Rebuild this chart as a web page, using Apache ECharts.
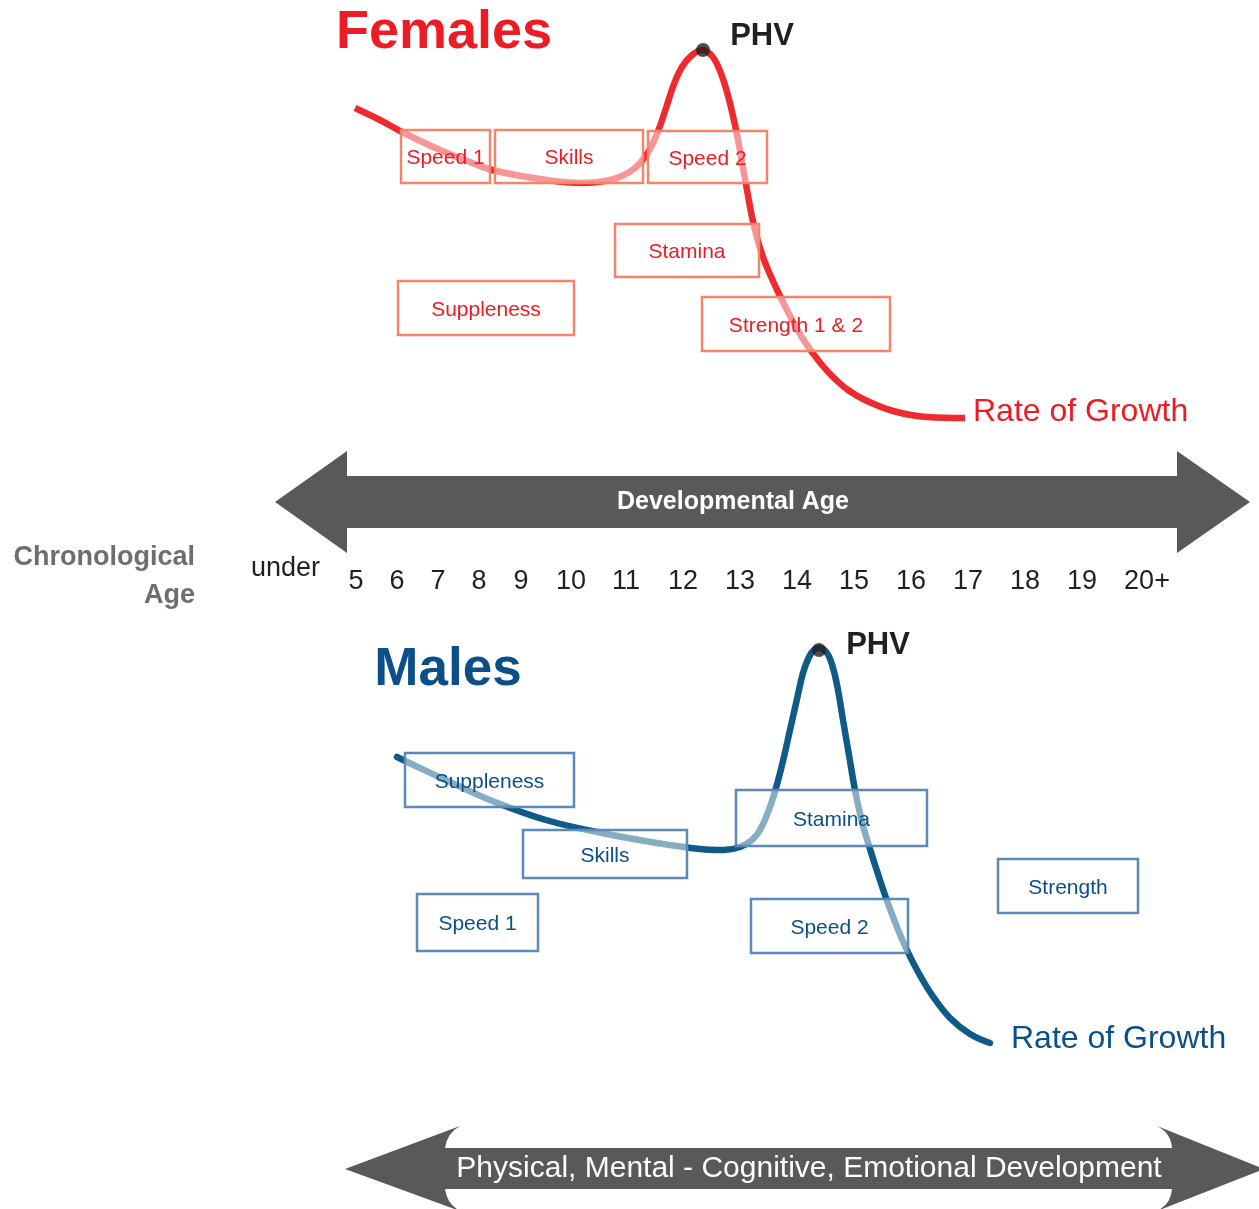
<!DOCTYPE html>
<html>
<head>
<meta charset="utf-8">
<title>Rate of Growth - Females / Males</title>
<script src="https://cdn.jsdelivr.net/npm/echarts@6/dist/echarts.min.js"></script>
<style>
  html, body { margin: 0; padding: 0; background: #fff; }
  #chart { width: 1259px; height: 1209px; }
</style>
</head>
<body>
<div id="chart"></div>
<script>
// diagram units: x 0..1259 left to right, y 0..1209 top to bottom
var femaleGrowth = [[355,108],[380,120],[402,132],[440,150],[470,162],[492,170],[540,179],[583,183],[605,181],
  [622,176],[635,168],[645,157],[653,143],[660,126],[667,105],[674,84],[682,67],[691,56],[702,50],[712,56],
  [720,71],[727,92],[733,116],[738,140],[743,168],[747,190],[751,212],[755,230],[760,248],[766,265],[773,281],
  [780,296],[787,310],[795,325],[803,339],[812,352],[822,365],[833,377],[848,390],[867,401],[893,411],
  [927,417],[965,418]];
var maleGrowth = [[397,757],[420,768],[450,782],[490,800],[546,820],[602,833],[657,843],[700,849],[724,850],
  [740,847],[752,840],[760,830],[770,807],[776,788],[783,761],[790,730],[797,699],[803,673],[809,657],
  [814,650],[819,648],[827,653],[833,668],[838,690],[843,720],[849,755],[855,790],[862,822],[870,849],
  [878,874],[886,898],[895,922],[905,946],[917,970],[932,995],[950,1018],[970,1034],[990,1043]];
var femalePHV = [[703, 50]];
var malePHV = [[819, 650]];

var femaleStages = ['Speed 1', 'Skills', 'Speed 2', 'Stamina', 'Suppleness', 'Strength 1 & 2'];
var femaleStageBoxes = [[401,130,490,183],[495,130,643,183],[648,131,767,183],[615,224,759,277],[398,281,574,335],[702,297,890,351]];
var maleStages = ['Suppleness', 'Skills', 'Stamina', 'Speed 1', 'Speed 2', 'Strength'];
var maleStageBoxes = [[405,753,574,807],[523,830,687,878],[736,790,927,846],[417,894,538,951],[751,899,908,953],[998,859,1138,913]];

var ageLabels = ['5','6','7','8','9','10','11','12','13','14','15','16','17','18','19','20+'];
var ageLabelX = [356,397,438,479,521,571,626,683,740,797,854,911,968,1025,1082,1147];

var FONT = '"Liberation Sans", Arial, Helvetica, sans-serif';
var RED = '#ed1c24', BLUE = '#0b4f8a', GREY = '#58595b';

var captions = [
  { text: 'Females', at: [444, 33], color: RED, font: 'bold 54px ' + FONT },
  { text: 'PHV', at: [762, 36], color: '#231f20', font: 'bold 31px ' + FONT },
  { text: 'Rate of Growth', at: [973, 412], color: RED, font: '32px ' + FONT, align: 'left' },
  { text: 'Developmental Age', at: [733, 502], color: '#fff', font: 'bold 25px ' + FONT },
  { text: 'Chronological', at: [195, 558], color: '#6d6e71', font: 'bold 27px ' + FONT, align: 'right' },
  { text: 'Age', at: [195, 596], color: '#6d6e71', font: 'bold 27px ' + FONT, align: 'right' },
  { text: 'under', at: [251, 569], color: '#231f20', font: '27px ' + FONT, align: 'left' },
  { text: 'Males', at: [448, 670], color: BLUE, font: 'bold 53px ' + FONT },
  { text: 'PHV', at: [878, 645], color: '#231f20', font: 'bold 31px ' + FONT },
  { text: 'Rate of Growth', at: [1011, 1039], color: BLUE, font: '32px ' + FONT, align: 'left' },
  { text: 'Physical, Mental - Cognitive, Emotional Development', at: [809, 1169], color: '#fff', font: '30px ' + FONT }
];
ageLabels.forEach(function (t, i) {
  captions.push({ text: t, at: [ageLabelX[i], 582], color: '#231f20', font: '27px ' + FONT });
});

var chart = echarts.init(document.getElementById('chart'));

function boxSeries(names, boxes, stroke, textColor) {
  return {
    type: 'custom',
    z: 4,
    silent: true,
    data: boxes,
    renderItem: function (params, api) {
      var p1 = api.coord([api.value(0), api.value(1)]);
      var p2 = api.coord([api.value(2), api.value(3)]);
      return {
        type: 'group',
        children: [{
          type: 'rect',
          shape: { x: p1[0], y: p1[1], width: p2[0] - p1[0], height: p2[1] - p1[1] },
          style: { fill: 'rgba(255,255,255,0.5)', stroke: stroke, lineWidth: 2.5 }
        }, {
          type: 'text',
          x: (p1[0] + p2[0]) / 2,
          y: (p1[1] + p2[1]) / 2 + 2,
          style: { text: names[params.dataIndex], fill: textColor, font: '21px ' + FONT, align: 'center', verticalAlign: 'middle' }
        }]
      };
    }
  };
}

function growthSeries(data, color, cap) {
  return {
    type: 'line',
    data: data,
    z: 3,
    smooth: 0.4,
    showSymbol: false,
    silent: true,
    lineStyle: { color: color, width: 6.5, cap: cap }
  };
}

// the two grey arrows, outlined in diagram units
function arrowSeries() {
  return {
    type: 'custom',
    z: 1,
    silent: true,
    data: [[0, 0]],
    renderItem: function (params, api) {
      var c = function (x, y) { return api.coord([x, y]); };
      var dev = [c(275,502), c(347,451), c(347,476), c(1177,476), c(1177,451), c(1250,502),
        c(1177,553), c(1177,528), c(347,528), c(347,553)];
      var pts = {
        tipL: c(345,1169), cTL: c(460,1126), qTL: c(447,1133), bTL: c(445,1148),
        bTR: c(1172,1148), qTR: c(1171,1133), cTR: c(1157,1126), tipR: c(1264,1169),
        cBR: c(1157,1211), qBR: c(1171,1204), bBR: c(1172,1189),
        bBL: c(445,1189), qBL: c(447,1204), cBL: c(460,1211)
      };
      var f = function (p) { return p[0].toFixed(1) + ' ' + p[1].toFixed(1); };
      var d = 'M' + f(pts.tipL) + ' L' + f(pts.cTL) + ' Q' + f(pts.qTL) + ' ' + f(pts.bTL) +
        ' L' + f(pts.bTR) + ' Q' + f(pts.qTR) + ' ' + f(pts.cTR) + ' L' + f(pts.tipR) +
        ' L' + f(pts.cBR) + ' Q' + f(pts.qBR) + ' ' + f(pts.bBR) + ' L' + f(pts.bBL) +
        ' Q' + f(pts.qBL) + ' ' + f(pts.cBL) + ' Z';
      return {
        type: 'group',
        children: [
          { type: 'polygon', shape: { points: dev }, style: { fill: GREY } },
          { type: 'path', shape: { pathData: d }, style: { fill: GREY } }
        ]
      };
    }
  };
}

chart.setOption({
  animation: false,
  backgroundColor: '#ffffff',
  grid: { left: 0, right: 0, top: 0, bottom: 0 },
  xAxis: { type: 'value', min: 0, max: 1259, show: false },
  yAxis: { type: 'value', min: 0, max: 1209, inverse: true, show: false },
  series: [
    arrowSeries(),
    growthSeries(femaleGrowth, '#ee2a2f', 'butt'),
    growthSeries(maleGrowth, '#0f5a87', 'round'),
    boxSeries(femaleStages, femaleStageBoxes, '#f4846a', RED),
    boxSeries(maleStages, maleStageBoxes, '#5b89bb', BLUE),
    {
      type: 'scatter',
      z: 5,
      silent: true,
      symbolSize: 14,
      itemStyle: { color: '#231f20' },
      data: femalePHV.concat(malePHV)
    },
    {
      type: 'custom',
      z: 6,
      silent: true,
      data: captions.map(function (c) { return c.at; }),
      renderItem: function (params, api) {
        var c = captions[params.dataIndex];
        var p = api.coord([api.value(0), api.value(1)]);
        return {
          type: 'text', x: p[0], y: p[1],
          style: { text: c.text, fill: c.color, font: c.font, align: c.align || 'center', verticalAlign: 'middle' }
        };
      }
    }
  ]
});
</script>
</body>
</html>
